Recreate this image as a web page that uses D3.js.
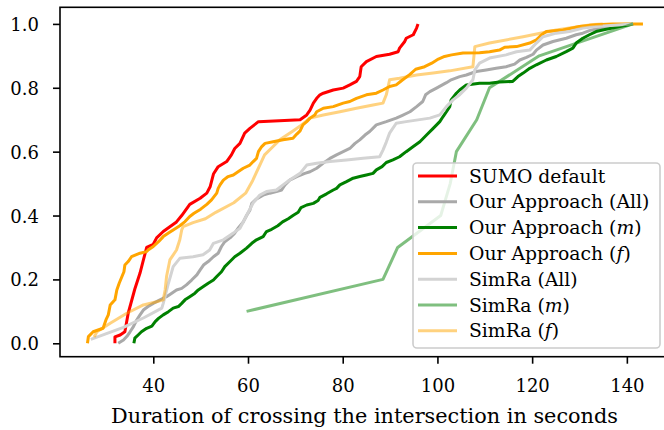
<!DOCTYPE html>
<html><head><meta charset="utf-8">
<script src="https://cdn.jsdelivr.net/npm/d3@7"></script>
<style>
html,body{margin:0;padding:0;background:#fff;}
svg{display:block;}
text{font-family:"DejaVu Serif",serif;fill:#000;}
</style></head>
<body>
<svg id="chart" width="664" height="430"></svg>
<script>
// ---- data (duration in seconds, cumulative share) ----
const sumoX = [31.9,31.9,33.0,34.0,34.7,36.1,37.2,37.9,38.6,40.0,40.7,42.1,43.5,44.9,46.0,47.7,49.9,51.3,52.0,52.7,53.7,55.5,56.5,57.2,58.3,59.3,60.4,62.2,71.0,72.4,73.1,73.8,74.5,75.2,75.9,78.0,80.1,81.5,82.9,83.6,83.9,85.0,87.1,89.9,91.7,92.0,93.1,93.4,94.9,95.6,95.9];
const sumoY = [0.0,0.02,0.026,0.036,0.094,0.17,0.22,0.26,0.30,0.31,0.33,0.35,0.365,0.38,0.40,0.435,0.454,0.47,0.49,0.53,0.553,0.569,0.59,0.61,0.626,0.658,0.673,0.694,0.70,0.715,0.73,0.752,0.767,0.778,0.783,0.793,0.799,0.809,0.82,0.835,0.866,0.882,0.898,0.905,0.913,0.924,0.945,0.955,0.966,0.987,1.0];

const oaAllX = [32.6,33.7,34.4,35.1,35.8,36.5,37.2,37.9,38.9,40.0,41.4,42.8,43.9,44.9,46.0,47.0,48.1,49.2,49.9,50.6,51.6,52.7,53.7,54.4,55.1,56.2,57.2,58.0,59.0,59.7,60.4,60.8,61.8,63.2,64.6,66.0,67.1,67.8,68.8,70.3,72.0,73.1,74.5,75.9,77.3,78.7,80.1,81.5,82.6,83.6,84.7,85.7,87.1,89.2,91.3,92.5,94.2,95.6,96.9,97.5,98.4,99.8,101.9,102.9,104.7,106.1,108.2,110.3,112.4,114.5,116.3,117.4,118.8,120.2,120.9,122.3,124.4,127.2,129.3,130.7,132.1,134.2,137.8,141.3];
const oaAllY = [0,0.01,0.021,0.036,0.052,0.073,0.089,0.104,0.115,0.125,0.136,0.146,0.157,0.167,0.172,0.183,0.198,0.214,0.23,0.245,0.256,0.271,0.282,0.303,0.318,0.33,0.345,0.362,0.38,0.40,0.417,0.438,0.452,0.464,0.47,0.475,0.48,0.496,0.511,0.522,0.532,0.537,0.548,0.564,0.579,0.59,0.60,0.61,0.626,0.637,0.652,0.663,0.684,0.694,0.705,0.713,0.725,0.741,0.757,0.778,0.788,0.799,0.816,0.825,0.835,0.84,0.851,0.856,0.861,0.866,0.874,0.887,0.895,0.905,0.918,0.934,0.945,0.955,0.966,0.971,0.979,0.987,0.997,1.0];

const oaMX = [35.9,36.1,36.8,37.5,38.6,39.7,40.4,41.1,42.1,43.2,44.2,45.3,46.0,46.7,47.7,48.8,49.5,50.5,51.6,52.7,53.4,54.4,55.1,56.2,57.2,58.3,59.7,60.8,61.8,63.2,63.9,65.0,66.3,67.3,68.5,69.5,70.6,71.2,72.4,73.8,74.8,75.2,76.6,78.0,78.7,79.4,80.8,82.2,83.6,85.0,86.4,87.1,88.3,89.2,90.6,92.0,93.4,94.9,96.3,97.7,99.1,100.5,101.2,101.9,102.6,102.9,104.0,104.7,106.1,108.9,111.0,113.1,115.9,117.0,118.1,119.5,120.9,123.0,125.1,127.2,128.6,129.3,130.7,132.1,133.5,135.6,138.5,141.3];
const oaMY = [0,0.016,0.026,0.036,0.047,0.054,0.068,0.078,0.089,0.099,0.11,0.115,0.125,0.136,0.146,0.157,0.167,0.177,0.188,0.198,0.209,0.224,0.24,0.256,0.271,0.282,0.298,0.313,0.324,0.334,0.35,0.357,0.368,0.38,0.39,0.40,0.41,0.425,0.433,0.438,0.447,0.457,0.468,0.48,0.485,0.496,0.506,0.517,0.522,0.527,0.532,0.543,0.553,0.566,0.574,0.584,0.60,0.616,0.631,0.652,0.673,0.694,0.71,0.725,0.741,0.762,0.783,0.793,0.809,0.814,0.814,0.818,0.82,0.835,0.846,0.861,0.872,0.887,0.898,0.913,0.924,0.94,0.955,0.966,0.976,0.983,0.992,1.0];

const oaFX = [26.1,26.3,27.3,29.4,30.0,30.5,30.9,31.9,32.3,32.8,33.8,34.0,34.7,35.4,37.2,38.6,38.9,40.0,41.1,42.1,43.2,44.2,45.6,46.7,47.7,48.6,50.0,51.3,52.3,53.4,53.7,54.1,54.8,55.8,56.9,57.9,59.0,60.4,61.1,61.8,62.2,62.9,63.6,65.3,67.4,69.5,70.3,71.0,71.6,72.4,73.1,74.1,74.5,75.9,78.0,80.1,81.5,82.9,85.0,87.1,88.5,89.9,91.3,92.4,94.2,95.4,97.3,98.8,100.2,101.5,103.0,105.4,108.9,111.0,113.1,114.2,116.7,119.5,120.9,122.0,123.0,126.5,130.0,133.5,137.0,143.4];
const oaFY = [0,0.021,0.036,0.047,0.073,0.089,0.12,0.136,0.167,0.188,0.224,0.245,0.256,0.271,0.282,0.287,0.292,0.303,0.318,0.334,0.345,0.355,0.368,0.381,0.397,0.407,0.42,0.435,0.449,0.47,0.485,0.496,0.511,0.522,0.527,0.537,0.548,0.558,0.569,0.579,0.60,0.616,0.626,0.631,0.637,0.642,0.655,0.665,0.684,0.694,0.705,0.715,0.725,0.736,0.741,0.752,0.757,0.767,0.778,0.783,0.793,0.804,0.809,0.822,0.842,0.858,0.866,0.877,0.89,0.898,0.903,0.909,0.91,0.913,0.918,0.927,0.929,0.94,0.95,0.966,0.976,0.981,0.992,0.997,1.0,1.0];

const simAllX = [26.8,33.7,38.0,41.8,42.1,43.2,44.2,45.6,48.4,50.5,51.9,52.7,54.8,56.9,58.3,59.7,61.1,62.5,63.9,66.0,67.4,68.8,71.0,72.4,74.5,77.3,80.8,84.3,87.8,88.5,89.2,89.9,91.3,93.4,98.4,100.5,101.9,103.3,104.7,106.1,107.5,107.9,108.9,111.0,114.5,116.7,119.5,120.9,122.3,125.1,127.9,130.7,133.5,141.3];
const simAllY = [0.012,0.05,0.08,0.11,0.125,0.188,0.24,0.266,0.271,0.277,0.292,0.313,0.324,0.345,0.36,0.40,0.44,0.464,0.475,0.48,0.496,0.511,0.532,0.558,0.564,0.569,0.574,0.579,0.584,0.605,0.63,0.658,0.689,0.694,0.705,0.715,0.741,0.762,0.778,0.799,0.825,0.856,0.877,0.893,0.903,0.913,0.918,0.94,0.96,0.971,0.976,0.987,0.992,1.0];

const simMX = [59.7,88.5,91.6,100.7,102.7,104.0,108.3,111.0,121.5,141.3];
const simMY = [0.1,0.2,0.3,0.4,0.5,0.6,0.7,0.8,0.9,1.0];

const simFX = [27.5,28.1,30.9,34.4,37.9,40.7,42.1,42.5,42.8,43.5,44.9,45.6,46.0,46.3,48.4,51.0,53.2,57.0,59.5,61.0,63.5,65.3,66.7,69.5,71.0,73.1,75.9,79.4,82.9,86.4,88.5,89.2,89.6,89.9,92.0,95.6,99.1,102.6,107.5,107.9,111.0,118.1,125.1,132.1,134.9];
const simFY = [0.02,0.036,0.063,0.094,0.12,0.13,0.136,0.167,0.209,0.261,0.292,0.324,0.355,0.365,0.378,0.39,0.41,0.44,0.47,0.51,0.59,0.616,0.637,0.665,0.68,0.705,0.715,0.725,0.736,0.746,0.752,0.778,0.804,0.825,0.83,0.84,0.846,0.853,0.866,0.929,0.94,0.96,0.981,0.997,1.0];

const seriesNames = ["SUMO default","Our Approach (All)","Our Approach (m)","Our Approach (f)","SimRa (All)","SimRa (m)","SimRa (f)"];
const xTicks = [40,60,80,100,120,140];
const yTicks = [0.0,0.2,0.4,0.6,0.8,1.0];
const xLabel = "Duration of crossing the intersection in seconds";

const series = [
  {name:seriesNames[0], xs:sumoX, ys:sumoY, color:"#ff0000", op:1},
  {name:seriesNames[1], xs:oaAllX, ys:oaAllY, color:"#a9a9a9", op:1},
  {name:seriesNames[2], xs:oaMX, ys:oaMY, color:"#008000", op:1},
  {name:seriesNames[3], xs:oaFX, ys:oaFY, color:"#ffa500", op:1},
  {name:seriesNames[4], xs:simAllX, ys:simAllY, color:"#d3d3d3", op:1},
  {name:seriesNames[5], xs:simMX, ys:simMY, color:"#008000", op:0.5},
  {name:seriesNames[6], xs:simFX, ys:simFY, color:"#ffa500", op:0.5}
];

// ---- layout ----
const L = 60, R = 669, T = 7.3, B = 356.7;
const svg = d3.select("#chart");
const x = d3.scaleLinear().domain([20.3,148.9]).range([L,R]);
const y = d3.scaleLinear().domain([-0.042,1.052]).range([B,T]);

const line = d3.line().x(d=>x(d[0])).y(d=>y(d[1]));
const plot = svg.append("g");
series.forEach(s=>{
  const pts = s.xs.map((v,i)=>[v,s.ys[i]]);
  plot.append("path").datum(pts).attr("d",line)
    .attr("fill","none").attr("stroke",s.color).attr("stroke-opacity",s.op)
    .attr("stroke-width",3).attr("stroke-linejoin","round");
});

// axes
const xAxis = d3.axisBottom(x).tickValues(xTicks).tickSize(7).tickPadding(5).tickFormat(d3.format("d"));
const yAxis = d3.axisLeft(y).tickValues(yTicks).tickSize(7).tickPadding(5).tickFormat(d3.format(".1f"));
const gx = svg.append("g").attr("transform",`translate(0,${B})`).call(xAxis);
const gy = svg.append("g").attr("transform",`translate(${L},0)`).call(yAxis);
[gx,gy].forEach(g=>{
  g.select(".domain").remove();
  g.selectAll(".tick line").attr("stroke","#000").attr("stroke-width",1.6);
  g.selectAll(".tick text").style("font-family","DejaVu Serif").style("font-size","18px").attr("fill","#000");
});
gx.selectAll(".tick text").attr("dy",null).attr("y",35).attr("dominant-baseline","auto");
gy.selectAll(".tick text").attr("dy","0.36em").attr("x",-21);

// spines
svg.append("rect").attr("x",L).attr("y",T).attr("width",R-L).attr("height",B-T)
  .attr("fill","none").attr("stroke","#000").attr("stroke-width",1.6);

// x label
svg.append("text").attr("x",(L+R)/2).attr("y",422.5).attr("text-anchor","middle")
  .style("font-size","20.8px").text(xLabel);

// legend
const lg = svg.append("g");
lg.append("rect").attr("x",413).attr("y",163).attr("width",247).attr("height",185)
  .attr("rx",4).attr("fill","#fff").attr("fill-opacity",0.8)
  .attr("stroke","#cccccc").attr("stroke-width",1.6);
series.forEach((s,i)=>{
  const cy = 176 + i*25.8;
  lg.append("line").attr("x1",418).attr("x2",457).attr("y1",cy).attr("y2",cy)
    .attr("stroke",s.color).attr("stroke-opacity",s.op).attr("stroke-width",3);
  const t = lg.append("text").attr("x",469).attr("y",cy+6.5).style("font-size","18.8px");
  const m = s.name.match(/^(.*)\((m|f)\)$/);
  if(m){
    t.append("tspan").text(m[1]+"(");
    t.append("tspan").style("font-style","italic").text(m[2]);
    t.append("tspan").text(")");
  } else t.text(s.name);
});
</script>
</body></html>
